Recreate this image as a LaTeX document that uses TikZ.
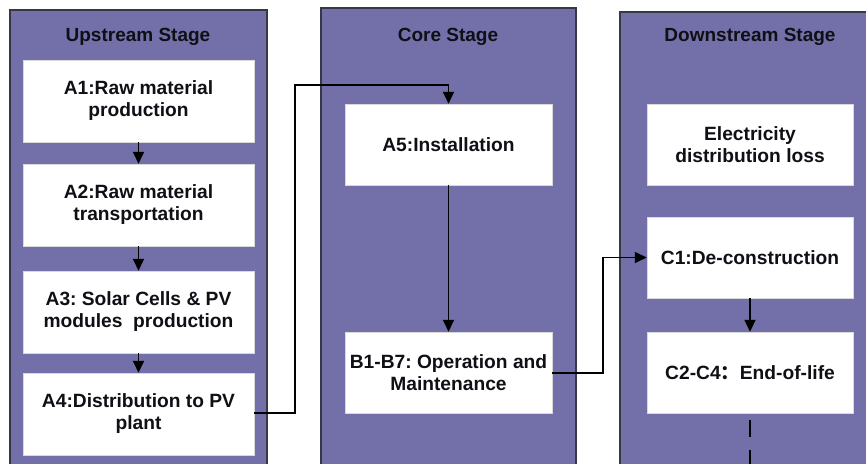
\documentclass[tikz,border=0pt]{standalone}
\usepackage{fontspec}
\setmainfont{Liberation Sans}
\newfontfamily\cjk{Noto Sans CJK SC}
\usetikzlibrary{arrows.meta}
\frenchspacing
\definecolor{panelfill}{RGB}{115,111,168}
\definecolor{panelline}{RGB}{55,55,70}
\definecolor{txt}{RGB}{15,15,22}
\tikzset{
  panel/.style={fill=panelfill, draw=panelline, line width=1.2pt},
  title/.style={font=\bfseries\fontsize{19}{22}\selectfont, text=txt},
  box/.style={rectangle, fill=white, draw=gray!30, line width=0.5pt, align=center,
    inner sep=1pt, font=\bfseries\fontsize{19.2}{22}\selectfont, text=txt},
  wbox/.style={box, minimum width=231pt, minimum height=82pt},
  nbox/.style={box, minimum width=207pt, minimum height=81pt},
  conn/.style={draw=black, line width=1.9pt, -{Triangle[length=12pt,width=11pt]}},
  plain/.style={draw=black, line width=1.9pt},
}
\begin{document}
\begin{tikzpicture}[x=1pt,y=-1pt]
\useasboundingbox (0,0) rectangle (866,463);
\clip (0,0) rectangle (866,463);
\fill[white] (0,0) rectangle (866,463);
% panels
\draw[panel] (10,10) rectangle (267,475);
\draw[panel] (321,8) rectangle (576,475);
\draw[panel] (620,12) rectangle (880,475);
% titles
\node[title] (t1) at (138,37) {Upstream Stage};
\node[title] (t2) at (448,37) {Core Stage};
\node[title] (t3) at (750,37) {Downstream Stage};
% upstream boxes
\node[wbox] (A1) at (138.5,101) {A1:Raw material\\production};
\node[wbox] (A2) at (138.5,205) {A2:Raw material\\transportation};
\node[wbox] (A3) at (138.5,312) {A3: Solar Cells \& PV\\modules\ \ production};
\node[wbox] (A4) at (138.5,414) {A4:Distribution to PV\\plant};
% core boxes
\node[nbox] (A5) at (448.5,144.5) {A5:Installation};
\node[nbox] (B) at (448.5,372.5) {B1-B7: Operation and\\Maintenance};
% downstream boxes
\node[nbox, minimum width=206pt] (E) at (750,144.5) {Electricity\\distribution loss};
\node[nbox, minimum width=206pt] (C1) at (750,257.5) {C1:De-construction};
\node[nbox, minimum width=206pt] (C2) at (750,372.5) {C2-C4{\cjk ：}End-of-life};
% connectors
\draw[conn] (A1) -- (A2);
\draw[conn] (A2) -- (A3);
\draw[conn] (A3) -- (A4);
\coordinate (p1) at (295,413);
\coordinate (p2) at (295,85);
\coordinate (p3) at (448.5,85);
\draw[conn] (A4.east |- p1) -- (p1) -- (p2) -- (p3) -- (A5.north);
\draw[conn] (A5) -- (B);
\coordinate (q1) at (603,373);
\coordinate (q2) at (603,257.5);
\draw[conn] (B.east |- q1) -- (q1) -- (q2) -- (C1.west);
\draw[conn] (C1) -- (C2);
\coordinate (d1) at (750,470);
\draw[plain, dash pattern=on 17pt off 13pt, dash phase=23pt] (C2.south) -- (d1);
\end{tikzpicture}
\end{document}
